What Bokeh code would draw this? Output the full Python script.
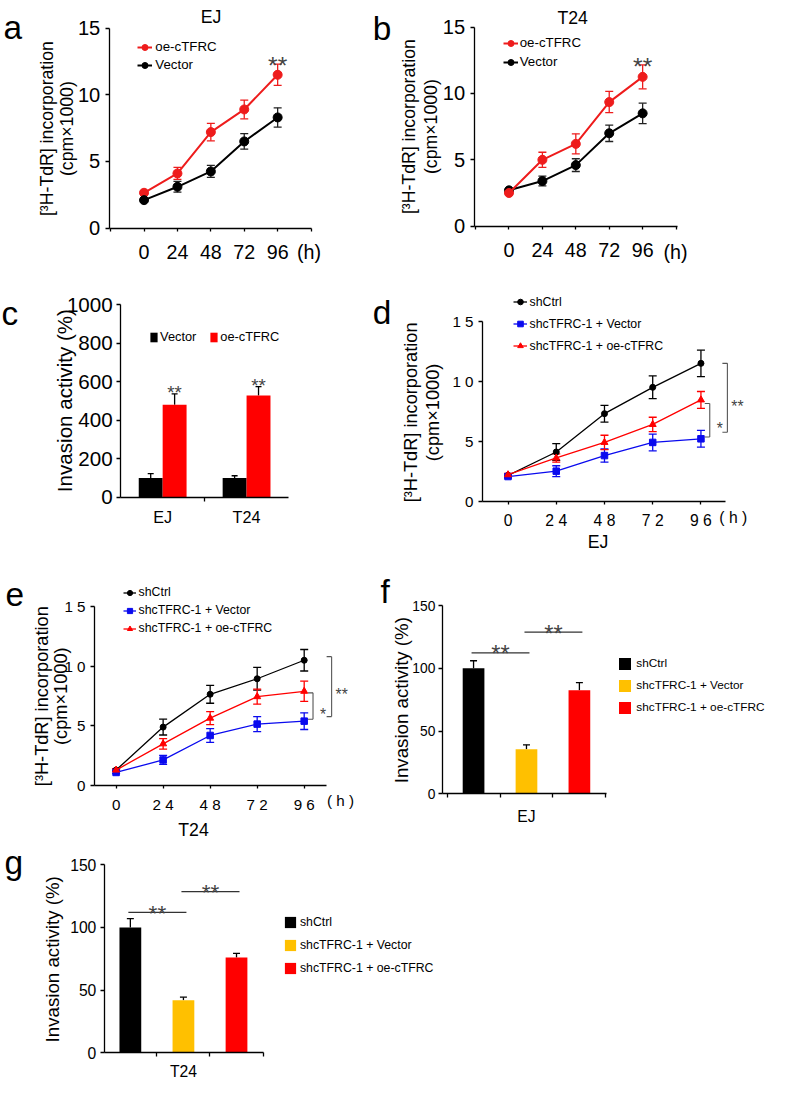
import math
from bokeh.plotting import figure
from bokeh.models import (Range1d, FixedTicker, Label, Legend, LegendItem, Whisker,
                          TeeHead, ColumnDataSource, LinearAxis)
from bokeh.layouts import column, row
from bokeh.embed import file_html
from bokeh.resources import INLINE

# ------------------------------------------------------------------ data
hours = [0, 24, 48, 72, 96]
hour_labels = ["0", "24", "48", "72", "96"]
hour_labels_spaced = ["0", "2 4", "4 8", "7 2", "9 6"]

# a: EJ  [3H-TdR] incorporation (cpm x 1000)
a_oe = [2.65, 4.1, 7.2, 8.9, 11.5]
a_oe_err = [0.15, 0.45, 0.65, 0.7, 0.8]
a_vec = [2.1, 3.1, 4.25, 6.5, 8.3]
a_vec_err = [0.12, 0.4, 0.45, 0.58, 0.72]

# b: T24
b_oe = [2.5, 5.0, 6.2, 9.35, 11.25]
b_oe_err = [0.12, 0.57, 0.76, 0.8, 0.9]
b_vec = [2.7, 3.4, 4.6, 7.0, 8.5]
b_vec_err = [0.12, 0.37, 0.48, 0.62, 0.77]

# c: invasion activity (%)
c_cells = ["EJ", "T24"]
c_vec = [100, 100]
c_vec_err = [22, 11]
c_oe = [480, 528]
c_oe_err = [56, 46]

# d: EJ rescue
d_ctrl = [2.15, 4.1, 7.3, 9.5, 11.5]
d_ctrl_err = [0.15, 0.7, 0.7, 0.95, 1.1]
d_vec = [2.05, 2.5, 3.8, 4.9, 5.2]
d_vec_err = [0.12, 0.45, 0.55, 0.7, 0.7]
d_oe = [2.2, 3.6, 4.9, 6.4, 8.45]
d_oe_err = [0.12, 0.35, 0.6, 0.6, 0.7]
d_br_hi = [11.5, 8.15]
d_br_lo = [5.75, 5.35]
d_br_txt = ["**", "*"]

# e: T24 rescue
e_ctrl = [1.3, 4.9, 7.65, 8.95, 10.5]
e_ctrl_err = [0.1, 0.66, 0.75, 0.95, 0.9]
e_vec = [1.1, 2.15, 4.2, 5.15, 5.4]
e_vec_err = [0.1, 0.38, 0.58, 0.63, 0.7]
e_oe = [1.3, 3.5, 5.65, 7.45, 7.9]
e_oe_err = [0.1, 0.44, 0.55, 0.63, 0.85]
e_br_hi = [10.8, 7.77]
e_br_lo = [5.78, 5.56]
e_br_txt = ["**", "*"]

# f, g: invasion activity (%)
groups = ["shCtrl", "shcTFRC-1 + Vector", "shcTFRC-1 + oe-cTFRC"]
f_vals = [100, 35.5, 82.5]
f_err = [6, 3.5, 6]
f_sig = [(0, 1, 112.3), (1, 2, 128.8)]
g_vals = [100, 42, 76]
g_err = [7, 2.4, 3.4]
g_sig = [(0, 1, 112.0), (1, 2, 128.5)]

# ------------------------------------------------------------------ style
FONT = "Liberation Sans"
RED = "#ff0000"
RED_L = "#ee1c1c"
BLUE = "#0a0aee"
YEL = "#ffc000"
GRAY = "#444444"
SX = 771 / 787
SY = 1082 / 1098
SF = (SX + SY) / 2
LEG_DX = 8   # empirical correction of legend placement (px)
LEG_DY = 8


def X(v):
    return v * SX


def Y(v):
    return v * SY


def fs(s):
    return f"{s * SF:.1f}px"


class Panel:
    """A figure whose frame covers its whole box; the axes are drawn at fixed
    locations so that the axis area matches the reference layout."""

    def __init__(self, box, frame, xr, yr):
        bx0, by0, bx1, by1 = box
        fx0, fy0, fx1, fy1 = frame
        R = lambda v: int(round(v))
        self.bx0, self.by0 = R(X(bx0)), R(Y(by0))
        self.bx1, self.by1 = R(X(bx1)), R(Y(by1))
        fl, fr, ft, fb = X(fx0), X(fx1), Y(fy0), Y(fy1)
        self.ppx_ = (fr - fl) / (xr[1] - xr[0])
        self.ppy_ = (fb - ft) / (yr[1] - yr[0])
        self.x0 = xr[0] - (fl - self.bx0) / self.ppx_
        self.x1 = xr[1] + (self.bx1 - fr) / self.ppx_
        self.y0 = yr[0] - (self.by1 - fb) / self.ppy_
        self.y1 = yr[1] + (ft - self.by0) / self.ppy_
        self.xr, self.yr = xr, yr
        W = self.bx1 - self.bx0
        H = self.by1 - self.by0
        p = figure(width=W, height=H, x_range=Range1d(self.x0, self.x1),
                   y_range=Range1d(self.y0, self.y1), title=None,
                   x_axis_location=None, y_axis_location=None,
                   output_backend="svg", toolbar_location=None, tools="",
                   min_border=0, min_border_left=0, min_border_right=0,
                   min_border_top=0, min_border_bottom=0)
        p.outline_line_color = None
        p.xgrid.visible = False
        p.ygrid.visible = False
        p.background_fill_color = "white"
        p.border_fill_color = "white"
        self.p = p

    def ppx(self):
        return self.ppx_

    def ppy(self):
        return self.ppy_

    def dsx(self, v):
        return (v - self.x0) * self.ppx_

    def dsy(self, v):
        return (v - self.y0) * self.ppy_

    def rsx(self, x):
        return X(x) - self.bx0

    def rsy(self, y):
        return self.by1 - Y(y)

    def label(self, sx, sy, text, size, align="center", baseline="middle",
              angle=0.0, color="black"):
        self.p.add_layout(Label(x=sx, y=sy, x_units="screen", y_units="screen",
                                text=text, text_font=FONT, text_font_size=fs(size),
                                text_align=align, text_baseline=baseline,
                                angle=angle, text_color=color))

    def text(self, x, y, text, size, **kw):
        self.label(self.rsx(x), self.rsy(y), text, size, **kw)

    def stars(self, sx, syc, text, size, color=GRAY):
        self.label(sx, syc - 0.40 * size * SF, text, size, baseline="alphabetic",
                   color=color)

    def legend(self, items, left, top, gw, gh, spacing, standoff, size,
               orientation="vertical"):
        n = len(items)
        h = n * gh + (n - 1) * spacing if orientation == "vertical" else gh
        lg = Legend(items=[LegendItem(label=t, renderers=r) for t, r in items],
                    location=(self.rsx(left) + LEG_DX, self.rsy(top) - h - LEG_DY),
                    orientation=orientation, glyph_width=gw, glyph_height=gh,
                    label_height=gh, label_width=0, spacing=spacing,
                    label_standoff=standoff, padding=0, margin=0,
                    border_line_color=None, background_fill_alpha=0,
                    label_text_font=FONT, label_text_font_size=fs(size),
                    label_text_color="black")
        self.p.add_layout(lg)

    def axis(self, side, size, standoff, ticks, overrides=None, tick_out=4,
             minor=None, major_tick=True, bounds=None):
        if side == "below":
            loc = self.yr[0]
            bnds = bounds or tuple(self.xr)
        else:
            loc = self.xr[0]
            bnds = bounds or tuple(self.yr)
        ax = LinearAxis(fixed_location=loc, bounds=bnds)
        ax.ticker = FixedTicker(ticks=ticks, minor_ticks=minor or [])
        ax.axis_line_color = "black"
        ax.axis_line_width = 1.3
        ax.major_tick_line_color = "black" if major_tick else None
        ax.major_tick_line_width = 1.3
        ax.major_tick_out = tick_out if major_tick else 0
        ax.major_tick_in = 0
        ax.minor_tick_line_color = "black" if minor else None
        ax.minor_tick_line_width = 1.3
        ax.minor_tick_out = 4
        ax.minor_tick_in = 0
        ax.major_label_text_font = FONT
        ax.major_label_text_font_size = fs(size)
        ax.major_label_standoff = standoff
        ax.major_label_text_color = "black"
        if overrides is not None:
            ax.major_label_overrides = overrides
        self.p.add_layout(ax, side)
        return ax


def series(P, xs, ys, errs, color, marker, size, lw, ecolor, cap):
    src = ColumnDataSource(dict(x=xs, y=ys,
                                lo=[y - e for y, e in zip(ys, errs)],
                                hi=[y + e for y, e in zip(ys, errs)]))
    P.p.add_layout(Whisker(source=src, base="x", upper="hi", lower="lo",
                           line_color=ecolor, line_width=1.3,
                           upper_head=TeeHead(size=cap, line_color=ecolor, line_width=1.3),
                           lower_head=TeeHead(size=cap, line_color=ecolor, line_width=1.3)))
    l = P.p.line("x", "y", source=src, line_color=color, line_width=lw)
    s = P.p.scatter("x", "y", source=src, marker=marker, size=size,
                    fill_color=color, line_color=color)
    return [l, s]


def bar_err(P, xs, vals, errs, cap):
    src = ColumnDataSource(dict(x=xs, lo=list(vals),
                                hi=[v + e for v, e in zip(vals, errs)]))
    P.p.add_layout(Whisker(source=src, base="x", upper="hi", lower="lo",
                           line_color="black", line_width=1.3,
                           upper_head=TeeHead(size=cap, line_color="black", line_width=1.3),
                           lower_head=None))


def ylabel2(P, x1, x2, yc, t1, t2, s1, s2):
    P.text(x1, yc, t1, s1, angle=math.pi / 2)
    P.text(x2, yc, t2, s2, angle=math.pi / 2)


YL1 = "[\u00b3H-TdR] incorporation"
YL2 = "(cpm\u00d71000)"
h_over = {h: t for h, t in zip(hours, hour_labels)}
h_over_sp = {h: t for h, t in zip(hours, hour_labels_spaced)}

# ------------------------------------------------------------------ panel a
A = Panel((0, 0, 375, 268), (111, 28, 317, 231), (-25, 120), (0, 15))
A.axis("below", 20, 14, [-24] + hours + [120], overrides={-24: "", 120: "", **h_over},
       tick_out=3)
A.axis("left", 20.5, 5, [0, 5, 10, 15])
ra_oe = series(A, hours, a_oe, a_oe_err, RED_L, "circle", 9, 2, RED_L, 8)
ra_vec = series(A, hours, a_vec, a_vec_err, "black", "circle", 9, 2, "#222222", 8)
A.legend([("oe-cTFRC", ra_oe), ("Vector", ra_vec)], 132, 31, 15, 16, 2, 3, 13.5)
A.text(3, 27, "a", 34, align="left", baseline="alphabetic")
A.text(215, 17, "EJ", 18)
ylabel2(A, 47, 68, 130, YL1, YL2, 18, 18)
A.text(315, 255, "(h)", 20)
A.stars(A.dsx(hours[-1]), A.dsy(a_oe[-1] + a_oe_err[-1]) + 8, "**", 25)

# ------------------------------------------------------------------ panel b
B = Panel((375, 0, 787, 268), (483.5, 27, 691, 229), (-25, 121), (0, 15))
B.axis("below", 20, 14, [-24] + hours + [120], overrides={-24: "", 120: "", **h_over},
       tick_out=3)
B.axis("left", 20.5, 5, [0, 5, 10, 15])
rb_vec = series(B, hours, b_vec, b_vec_err, "black", "circle", 9, 2, "#222222", 8)
rb_oe = series(B, hours, b_oe, b_oe_err, RED_L, "circle", 9, 2, RED_L, 8)
B.legend([("oe-cTFRC", rb_oe), ("Vector", rb_vec)], 505, 27, 15, 16, 3, 2, 13.5)
B.text(380, 28, "b", 34, align="left", baseline="alphabetic")
B.text(584, 18, "T24", 18)
ylabel2(B, 417, 439, 128, YL1, YL2, 18, 18)
B.text(689, 255, "(h)", 20)
B.stars(B.dsx(hours[-1]), B.dsy(b_oe[-1] + b_oe_err[-1]) + 8, "**", 25)

# ------------------------------------------------------------------ panel c
C = Panel((0, 268, 375, 560), (122.7, 308.5, 294, 504), (0.5, 2.5), (0, 1000))
cx = [i + 1 for i in range(len(c_cells))]
C.axis("below", 16.5, 7, cx, overrides={i + 1: c for i, c in enumerate(c_cells)},
       major_tick=False, minor=[1.5])
C.axis("left", 21, 4, [0, 200, 400, 600, 800, 1000])
bw = 0.285
xv = [x - bw / 2 for x in cx]
xo = [x + bw / 2 for x in cx]
bar_err(C, xv, c_vec, c_vec_err, 6)
bar_err(C, xo, c_oe, c_oe_err, 6)
rc_vec = C.p.vbar(x=xv, top=c_vec, width=bw, fill_color="black", line_color=None)
rc_oe = C.p.vbar(x=xo, top=c_oe, width=bw, fill_color=RED, line_color=None)
C.legend([("Vector", [rc_vec]), ("oe-cTFRC", [rc_oe])], 144, 329, 9, 12, 13, 2, 13,
         orientation="horizontal")
for x, v, e in zip(xo, c_oe, c_oe_err):
    C.stars(C.dsx(x), C.dsy(v + e) + 9, "**", 19)
C.text(1, 318, "c", 34, align="left", baseline="alphabetic")
C.text(65, 406, "Invasion activity (%)", 21, angle=math.pi / 2)

# ------------------------------------------------------------------ panel d
D = Panel((375, 268, 787, 560), (492, 325.7, 740, 508), (-12.7, 108.2), (0, 15))
D.axis("below", 16, 8, hours, overrides=h_over_sp, tick_out=3)
D.axis("left", 15.5, 5, [0, 5, 10, 15], overrides={0: "0", 5: "5", 10: "1 0", 15: "1 5"})
rd_ctrl = series(D, hours, d_ctrl, d_ctrl_err, "black", "circle", 6, 1.3, "black", 8)
rd_vec = series(D, hours, d_vec, d_vec_err, BLUE, "square", 6.5, 1.3, BLUE, 8)
rd_oe = series(D, hours, d_oe, d_oe_err, RED, "triangle", 7, 1.3, RED, 8)
D.legend([("shCtrl", rd_ctrl), ("shcTFRC-1 + Vector", rd_vec),
          ("shcTFRC-1 + oe-cTFRC", rd_oe)], 515, 290.5, 14, 15, 7, 3, 12.5)
for k, (hi, lo, t) in enumerate(zip(d_br_hi, d_br_lo, d_br_txt)):
    offs = [27, 9][k]
    bx = hours[-1] + offs * SX / D.ppx()
    tk = 5 / D.ppx()
    D.p.segment(x0=[bx, bx - tk, bx - tk], y0=[lo, hi, lo], x1=[bx, bx, bx], y1=[hi, hi, lo],
                line_color="#555555", line_width=1.1)
    D.stars(D.dsx(bx) + 10, D.dsy((hi + lo) / 2) - 2, t, 16)
D.text(380, 317, "d", 34, align="left", baseline="alphabetic")
ylabel2(D, 419, 441, 418, YL1, YL2, 18.5, 18.5)
D.text(748, 525, "( h )", 16)
D.text(610, 550, "EJ", 18)

# ------------------------------------------------------------------ panel e
E = Panel((0, 560, 375, 852), (96, 615, 333, 796.7), (-11, 107.5), (0, 15))
E.axis("below", 15.5, 7, hours, overrides=h_over_sp, tick_out=3)
E.axis("left", 15.5, 5, [0, 5, 10, 15], overrides={0: "0", 5: "5", 10: "1 0", 15: "1 5"})
re_ctrl = series(E, hours, e_ctrl, e_ctrl_err, "black", "circle", 6, 1.3, "black", 8)
re_vec = series(E, hours, e_vec, e_vec_err, BLUE, "square", 6.5, 1.3, BLUE, 8)
re_oe = series(E, hours, e_oe, e_oe_err, RED, "triangle", 7, 1.3, RED, 8)
E.legend([("shCtrl", re_ctrl), ("shcTFRC-1 + Vector", re_vec),
          ("shcTFRC-1 + oe-cTFRC", re_oe)], 117, 585.5, 13, 15, 3, 3, 12.5)
for k, (hi, lo, t) in enumerate(zip(e_br_hi, e_br_lo, e_br_txt)):
    offs = [28, 9][k]
    bx = hours[-1] + offs * SX / E.ppx()
    tk = 5 / E.ppx()
    E.p.segment(x0=[bx, bx - tk, bx - tk], y0=[lo, hi, lo], x1=[bx, bx, bx], y1=[hi, hi, lo],
                line_color="#555555", line_width=1.1)
    E.stars(E.dsx(bx) + 10, E.dsy((hi + lo) / 2) - 2, t, 16)
E.text(5, 603, "e", 34, align="left", baseline="alphabetic")
ylabel2(E, 42, 62, 706, YL1, YL2, 18.5, 18.5)
E.text(347, 812, "( h )", 15.5)
E.text(197, 842, "T24", 18)


# ------------------------------------------------------------------ panels f, g
def bar_panel(P, vals, errs, sig, star_size, legend_args, cap):
    xs = [i + 1 for i in range(len(vals))]
    w = 0.41
    bar_err(P, xs, vals, errs, cap)
    rs = []
    for x, v, c in zip(xs, vals, ["black", YEL, RED]):
        rs.append(P.p.vbar(x=[x], top=[v], width=w, fill_color=c, line_color=None))
    for i, j, h in sig:
        x0 = xs[i] - 2 / P.ppx()
        x1 = xs[j] + 3 / P.ppx()
        P.p.segment(x0=[x0], y0=[h], x1=[x1], y1=[h], line_color="#333333", line_width=1.3)
        P.stars(P.dsx((x0 + x1) / 2), P.dsy(h) + 8, "**", star_size)
    P.legend([(g, [r]) for g, r in zip(groups, rs)], *legend_args)
    return xs


F = Panel((375, 560, 787, 852), (451, 614, 619, 805), (0.41, 3.52), (0, 150))
F.axis("below", 16, 10, [2], overrides={2: "EJ"}, major_tick=False,
       minor=[0.5, 1.5, 2.5, 3.5])
F.axis("left", 14, 3, [0, 50, 100, 150])
bar_panel(F, f_vals, f_err, f_sig, 24, (622, 657.5, 15, 15, 7, 4, 12), 7)
F.text(388, 600, "f", 34, align="left", baseline="alphabetic")
F.text(409, 710, "Invasion activity (%)", 19, angle=math.pi / 2)

G = Panel((0, 852, 787, 1098), (106, 877, 268, 1068), (0.51, 3.5), (0, 150))
G.axis("below", 16, 6, [2], overrides={2: "T24"}, major_tick=False,
       minor=[1.5, 2.5, 3.5])
G.axis("left", 16, 4, [0, 50, 100, 150])
bar_panel(G, g_vals, g_err, g_sig, 23, (280.6, 920, 14, 14, 9, 3, 12.5), 7)
G.text(4, 875, "g", 34, align="left", baseline="alphabetic")
G.text(53, 973, "Invasion activity (%)", 19, angle=math.pi / 2)

layout = column(row(A.p, B.p), row(C.p, D.p), row(E.p, F.p), G.p)
open("out.html", "w").write(file_html(layout, INLINE))
